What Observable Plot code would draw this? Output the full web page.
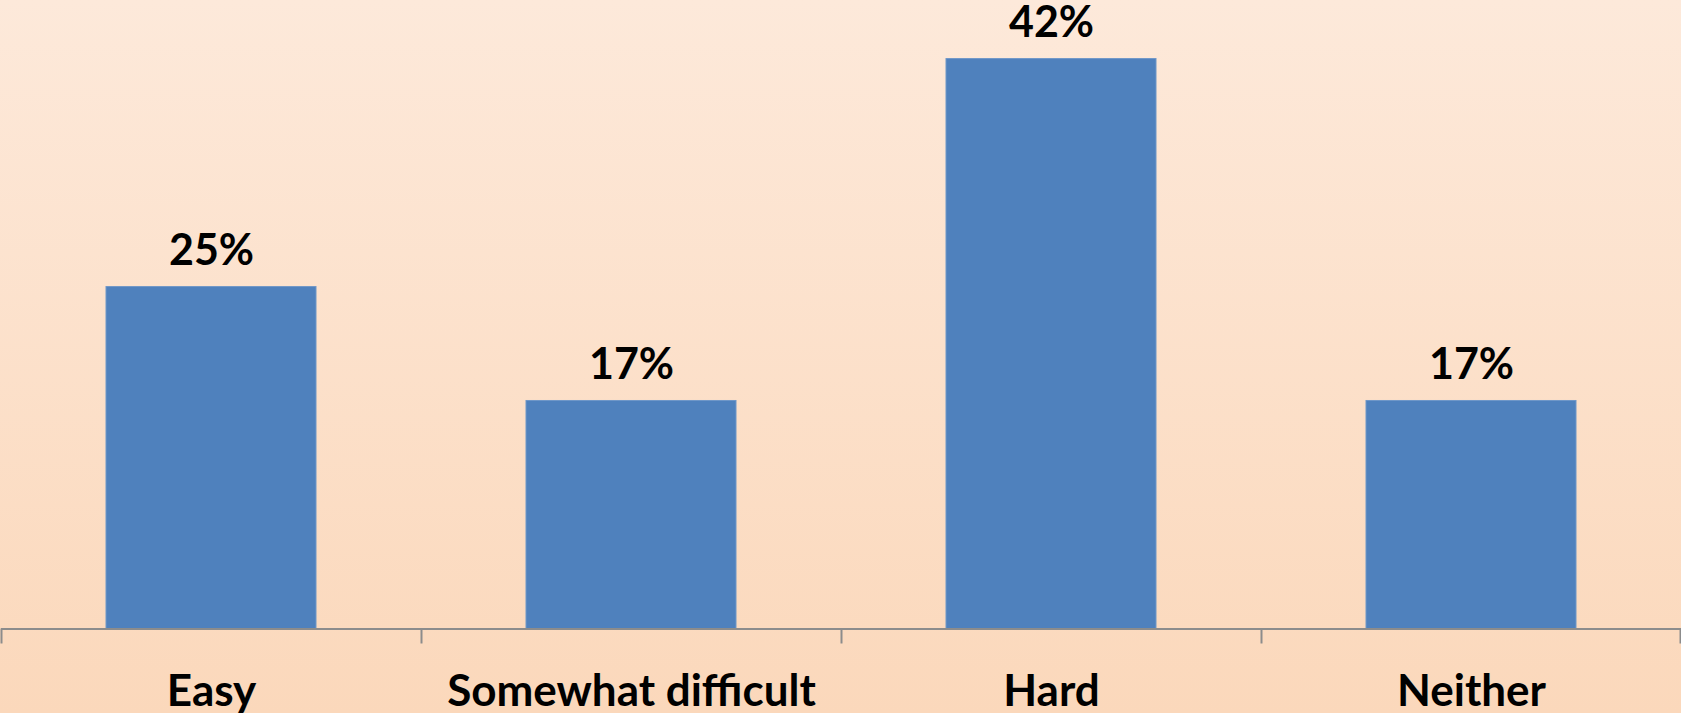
<!DOCTYPE html>
<html>
<head>
<meta charset="utf-8">
<script src="https://cdn.jsdelivr.net/npm/d3@7"></script>
<script src="https://cdn.jsdelivr.net/npm/@observablehq/plot@0.6"></script>
<style>
  html, body { margin: 0; padding: 0; background: #fbd9bd; }
  #chart svg { display: block; }
</style>
</head>
<body>
<div id="chart"></div>
<script>
const categories = ["Easy", "Somewhat difficult", "Hard", "Neither"];
const values = [25, 16.67, 41.67, 16.67];
const valueLabels = ["25%", "17%", "42%", "17%"];
const yMax = 45;

const data = categories.map((c, i) => ({category: c, value: values[i], label: valueLabels[i]}));

const W = 1681, H = 713;
const mT = 13, mB = 84.5, mL = 1, mR = 0;
const step = (W - mL - mR) / categories.length;
const pxPerUnit = (H - mT - mB) / yMax;
const font = "Lato, 'Open Sans', sans-serif";

const chart = Plot.plot({
  width: W,
  height: H,
  marginTop: mT,
  marginBottom: mB,
  marginLeft: mL,
  marginRight: mR,
  style: {background: "linear-gradient(to bottom, #fde9da 0%, #fbd8bb 100%)", fontFamily: font, overflow: "visible"},
  x: {domain: categories, paddingInner: 0.5, paddingOuter: 0.25, axis: null},
  y: {domain: [0, yMax], axis: null},
  marks: [
    Plot.barY(data, {x: "category", y: "value", fill: "#4f81bd", stroke: "#6f97c8", strokeWidth: 1}),
    Plot.ruleY([0], {stroke: "#8c8c8c", strokeWidth: 2}),
    Plot.ruleX(categories, {x: d => d, dx: -step / 2, y1: 0, y2: -15 / pxPerUnit, stroke: "#8c8c8c", strokeWidth: 2}),
    Plot.ruleX(categories.slice(-1), {x: d => d, dx: step / 2 - 1, y1: 0, y2: -15 / pxPerUnit, stroke: "#8c8c8c", strokeWidth: 2}),
    Plot.text(data, {x: "category", y: "value", text: "label", lineAnchor: "top", dy: -53, fontSize: 43, fontWeight: "bold", fill: "#000", fontFamily: font}),
    Plot.text(data, {x: "category", y: () => 0, text: "category", lineAnchor: "top", dy: 46, fontSize: 44, fontWeight: "bold", fill: "#000", fontFamily: font})
  ]
});
document.getElementById("chart").appendChild(chart);
</script>
</body>
</html>
